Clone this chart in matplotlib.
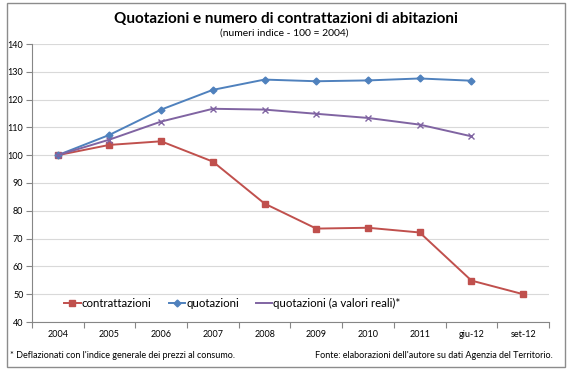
import matplotlib
matplotlib.use("Agg")
import matplotlib.pyplot as plt
from matplotlib.patches import Rectangle

# Dati (numeri indice, 2004 = 100)
periodi = ["2004", "2005", "2006", "2007", "2008", "2009", "2010", "2011", "giu-12", "set-12"]
contrattazioni = [100, 103.7, 105.0, 97.7, 82.6, 73.6, 73.9, 72.2, 54.9, 50.0]
quotazioni = [100, 107.3, 116.4, 123.5, 127.2, 126.6, 126.9, 127.6, 126.8]
quotazioni_reali = [100, 105.6, 112.1, 116.7, 116.4, 114.9, 113.4, 111.0, 106.8]

plt.rcParams["font.family"] = ["Lato", "DejaVu Sans"]

W, H = 571, 371
fig = plt.figure(figsize=(W / 100, H / 100), dpi=100)

# cornice esterna grigia (stile Excel)
fig.patches.append(Rectangle((7 / W, 1 - 367 / H), 558 / W, 364 / H,
                             transform=fig.transFigure, fill=False,
                             edgecolor="#8c8c8c", linewidth=1))

ax = fig.add_axes([31.8 / W, 1 - 322 / H, (549 - 31.8) / W, (322 - 44) / H])

x = list(range(len(periodi)))
ax.plot(x, contrattazioni, color="#C0504D", lw=1.4, marker="s", ms=4.5,
        label="contrattazioni")
ax.plot(x[:len(quotazioni)], quotazioni, color="#4F81BD", lw=1.4, marker="D",
        ms=3.5, label="quotazioni")
# nella legenda la serie reale compare solo come linea
xr = x[:len(quotazioni_reali)]
ax.plot(xr, quotazioni_reali, color="#8064A2", lw=1.4,
        label="quotazioni (a valori reali)*")
ax.plot(xr, quotazioni_reali, ls="none", color="#8064A2", marker="x", ms=5, mew=1)

ax.set_xlim(-0.5, len(periodi) - 0.5)
ax.set_ylim(40, 140)
ax.set_yticks(range(40, 141, 10))
ax.set_xticks(x)
ax.set_xticklabels(periodi)
ax.set_xticks([i + 0.5 for i in range(-1, len(periodi))], minor=True)
ax.tick_params(axis="x", which="major", length=0, pad=6, labelsize=6.5)
ax.tick_params(axis="x", which="minor", length=4, color="#868686", width=0.8)
ax.tick_params(axis="y", length=4, color="#868686", width=0.8, labelsize=6.5, pad=2)

ax.grid(axis="y", color="#d9d9d9", lw=0.8)
ax.set_axisbelow(True)
for s in ["top", "right"]:
    ax.spines[s].set_visible(False)
ax.spines["left"].set_color("#868686")
ax.spines["bottom"].set_color("#868686")

ax.legend(loc="lower left", bbox_to_anchor=(0.063, 0.045), ncol=3, frameon=False,
          fontsize=8.3, handlelength=1.4, handletextpad=0.1, columnspacing=1.5,
          borderpad=0, borderaxespad=0)

fig.text(286 / W, 1 - 19 / H, "Quotazioni e numero di contrattazioni di abitazioni",
         ha="center", va="center", fontsize=11, fontweight="bold")
fig.text(284 / W, 1 - 33 / H, "(numeri indice - 100 = 2004)",
         ha="center", va="center", fontsize=7.5)
fig.text(10 / W, 1 - 356 / H, "* Deflazionati con l'indice generale dei prezzi al consumo.",
         ha="left", va="center", fontsize=6.5)
fig.text(553 / W, 1 - 356 / H, "Fonte: elaborazioni dell'autore su dati Agenzia del Territorio.",
         ha="right", va="center", fontsize=6.5)

fig.savefig("out.png", dpi=100)
